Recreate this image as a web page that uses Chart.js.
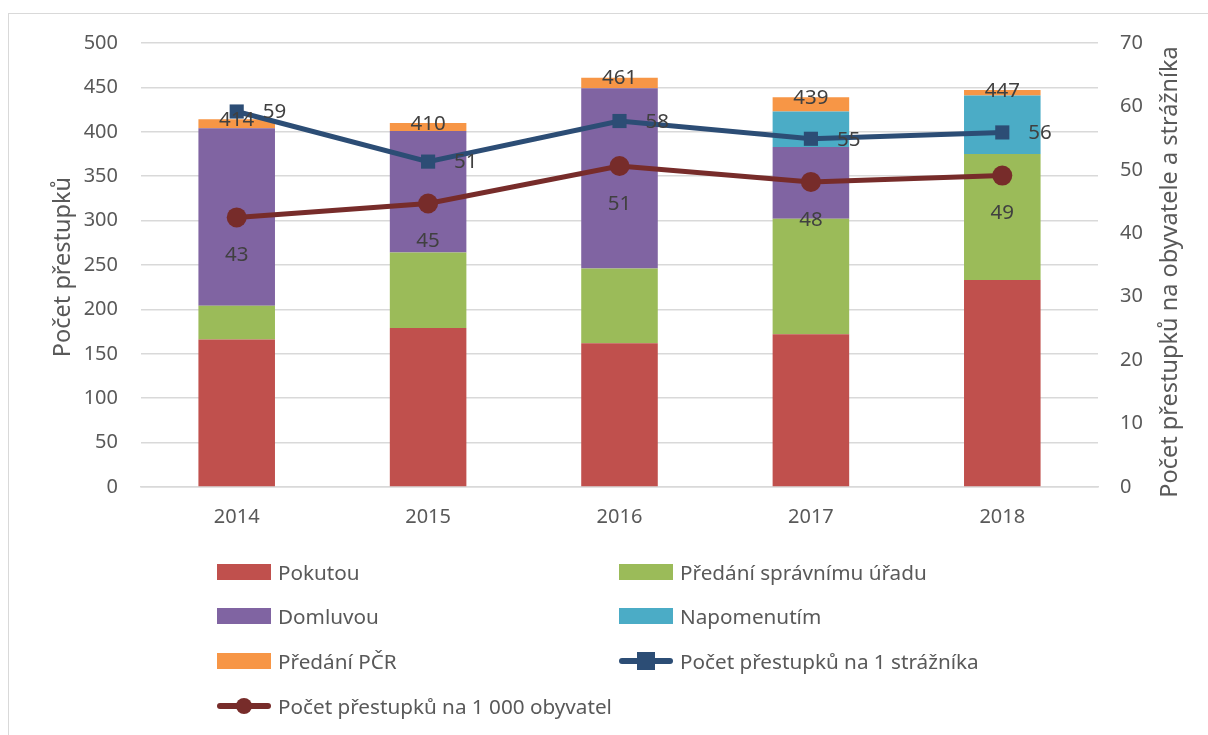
<!DOCTYPE html>
<html>
<head>
<meta charset="utf-8">
<script src="https://cdn.jsdelivr.net/npm/chart.js@4.4.0/dist/chart.umd.min.js"></script>
<style>
  html, body { margin: 0; padding: 0; background: #fff; }
  #wrap { position: relative; width: 1208px; height: 735px; overflow: hidden; font-family: "Noto Sans", "Open Sans", sans-serif; }
  #frame { position: absolute; left: 8px; top: 13px; width: 1300px; height: 800px; border-left: 1.5px solid #d9d9d9; border-top: 1.5px solid #d9d9d9; }
  canvas { position: absolute; left: 0; top: 0; }
  .item { position: absolute; height: 30px; display: flex; align-items: center; font-size: 20.7px; color: #595959; white-space: nowrap; }
  .mark { position: relative; width: 54px; height: 30px; margin-right: 7px; }
  .box { position: absolute; left: 0; top: 7px; width: 54px; height: 16px; }
  .line { position: absolute; left: 0; top: 12px; width: 54px; height: 6px; border-radius: 3px; }
  .sq { position: absolute; left: 18px; top: 6px; width: 18px; height: 18px; }
  .dot { position: absolute; left: 19px; top: 7px; width: 16px; height: 16px; border-radius: 50%; }
</style>
</head>
<body>
<div id="wrap">
  <div id="frame"></div>
  <canvas id="chart" width="1208" height="735"></canvas>
  <div id="legend"></div>
</div>
<script>
const years = ['2014', '2015', '2016', '2017', '2018'];
const pokutou = [166, 179, 162, 172, 233];
const spravniUrad = [38, 85, 84, 130, 142];
const domluvou = [200, 137, 203, 81, 0];
const napomenutim = [0, 0, 0, 40, 66];
const predaniPCR = [10, 9, 12, 16, 6];
const naStraznika = [59.2, 51.3, 57.7, 54.9, 55.9];
const naObyvatel = [42.5, 44.7, 50.6, 48.1, 49.1];

const yLeftTicks = { min: 0, max: 500, step: 50 };
const yRightTicks = { min: 0, max: 70, step: 10 };

const totals = years.map((_, i) =>
  pokutou[i] + spravniUrad[i] + domluvou[i] + napomenutim[i] + predaniPCR[i]);

const tickFont = { family: '"Noto Sans", "Open Sans", sans-serif', size: 20 };
const textColor = '#595959';
const labelColor = '#404040';

function bar(label, data, color) {
  return { type: 'bar', label, data, backgroundColor: color, borderWidth: 0,
    stack: 's', yAxisID: 'y', order: 2, barPercentage: 0.4, categoryPercentage: 1 };
}

const datasets = [
  bar('Pokutou', pokutou, '#C0504D'),
  bar('Předání správnímu úřadu', spravniUrad, '#9BBB59'),
  bar('Domluvou', domluvou, '#8064A2'),
  bar('Napomenutím', napomenutim, '#4BACC6'),
  bar('Předání PČR', predaniPCR, '#F79646'),
  { type: 'line', label: 'Počet přestupků na 1 strážníka', data: naStraznika, yAxisID: 'y1',
    borderColor: '#2C4D75', backgroundColor: '#2C4D75', borderWidth: 5, order: 0,
    pointStyle: 'rect', pointRadius: 10, pointBorderWidth: 0, tension: 0 },
  { type: 'line', label: 'Počet přestupků na 1 000 obyvatel', data: naObyvatel, yAxisID: 'y1',
    borderColor: '#772C2A', backgroundColor: '#772C2A', borderWidth: 5, order: 1,
    pointStyle: 'circle', pointRadius: 10, pointBorderWidth: 0, tension: 0 }
];

// value labels drawn on top of everything
const valueLabels = {
  id: 'valueLabels',
  afterDatasetsDraw(chart) {
    const ctx = chart.ctx;
    ctx.save();
    ctx.font = '20.5px "Noto Sans", "Open Sans", sans-serif';
    ctx.fillStyle = labelColor;
    ctx.textBaseline = 'middle';
    ctx.textAlign = 'center';
    chart.getDatasetMeta(4).data.forEach((el, i) => {
      ctx.fillText(String(totals[i]), el.x, el.y + 1);
    });
    ctx.textAlign = 'left';
    chart.getDatasetMeta(5).data.forEach((el, i) => {
      ctx.fillText(String(Math.round(naStraznika[i])), el.x + 26, el.y + 1);
    });
    ctx.textAlign = 'center';
    chart.getDatasetMeta(6).data.forEach((el, i) => {
      ctx.fillText(String(Math.round(naObyvatel[i])), el.x, el.y + 38);
    });
    ctx.restore();
  }
};

// both axis titles read bottom-to-top
const axisTitles = {
  id: 'axisTitles',
  afterDraw(chart) {
    const ctx = chart.ctx;
    const a = chart.chartArea;
    const font = '23.5px "Noto Sans", "Open Sans", sans-serif';
    ctx.save();
    ctx.font = font;
    ctx.fillStyle = textColor;
    ctx.textAlign = 'center';
    ctx.textBaseline = 'middle';
    ctx.translate(63, (a.top + a.bottom) / 2 + 2);
    ctx.rotate(-Math.PI / 2);
    ctx.fillText('Počet přestupků', 0, 0);
    ctx.restore();
    ctx.save();
    ctx.font = font;
    ctx.fillStyle = textColor;
    ctx.textAlign = 'center';
    ctx.textBaseline = 'middle';
    ctx.translate(1170, (a.top + a.bottom) / 2 + 7);
    ctx.rotate(-Math.PI / 2);
    ctx.fillText('Počet přestupků na obyvatele a strážníka', 0, 0);
    ctx.restore();
  }
};

new Chart(document.getElementById('chart'), {
  data: { labels: years, datasets },
  options: {
    responsive: false,
    animation: false,
    layout: { padding: { top: 43, bottom: 198, left: 0, right: 0 } },
    plugins: { legend: { display: false }, tooltip: { enabled: false } },
    scales: {
      x: {
        stacked: true,
        grid: { display: false, drawTicks: false },
        border: { display: true, color: '#d9d9d9', width: 1.5 },
        ticks: { color: textColor, font: tickFont, padding: 18 },
        afterFit(s) { s.height = 50; }
      },
      y: {
        stacked: true, position: 'left',
        min: yLeftTicks.min, max: yLeftTicks.max,
        ticks: { stepSize: yLeftTicks.step, color: textColor, font: tickFont, padding: 23 },
        grid: { color: '#d9d9d9', lineWidth: 1.5, drawTicks: false },
        border: { display: false },
        afterFit(s) { s.width = 141; }
      },
      y1: {
        position: 'right',
        min: yRightTicks.min, max: yRightTicks.max,
        ticks: { stepSize: yRightTicks.step, color: textColor, font: tickFont, padding: 22 },
        grid: { display: false, drawTicks: false },
        border: { display: false },
        afterFit(s) { s.width = 110; }
      }
    }
  },
  plugins: [valueLabels, axisTitles]
});

// legend in two columns below the plot
const legendCols = [217, 619];
const legendRows = [572, 616, 661, 706];
const legend = document.getElementById('legend');
datasets.forEach((ds, i) => {
  const item = document.createElement('div');
  item.className = 'item';
  item.style.left = legendCols[i % 2] + 'px';
  item.style.top = (legendRows[Math.floor(i / 2)] - 15) + 'px';
  const mark = document.createElement('span');
  mark.className = 'mark';
  if (ds.type === 'bar') {
    mark.innerHTML = '<span class="box" style="background:' + ds.backgroundColor + '"></span>';
  } else {
    const m = ds.pointStyle === 'rect' ? 'sq' : 'dot';
    mark.innerHTML = '<span class="line" style="background:' + ds.borderColor + '"></span>' +
      '<span class="' + m + '" style="background:' + ds.borderColor + '"></span>';
  }
  item.appendChild(mark);
  item.appendChild(document.createTextNode(ds.label));
  legend.appendChild(item);
});
</script>
</body>
</html>
